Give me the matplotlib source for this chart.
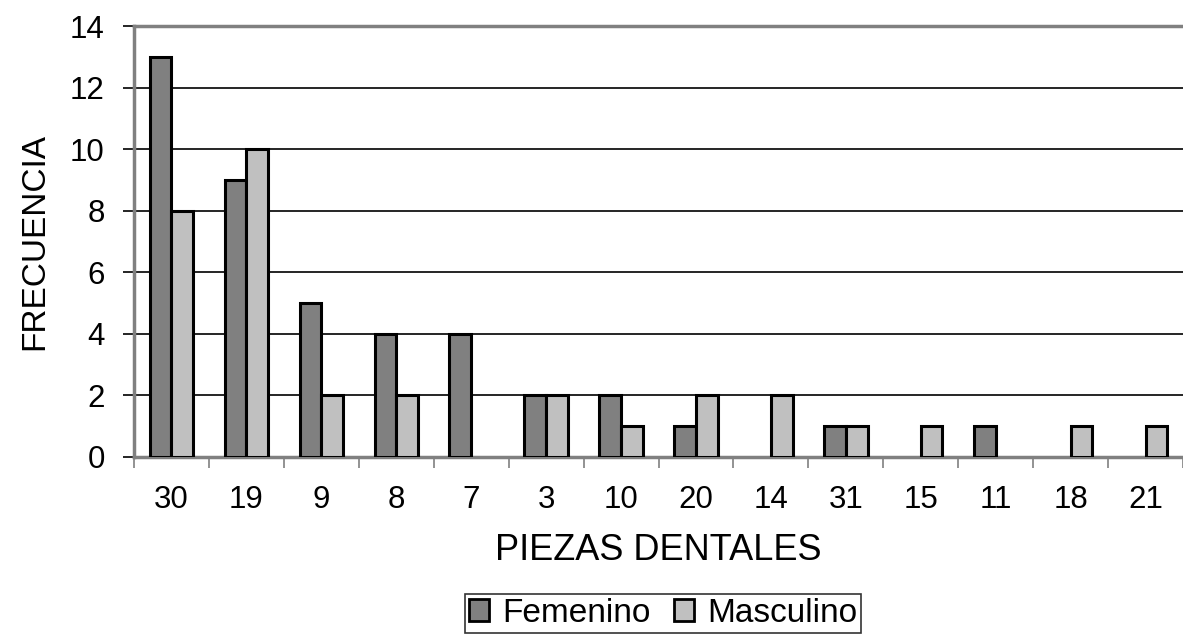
import numpy as np
import matplotlib
matplotlib.use("Agg")
from matplotlib import pyplot as plt
from matplotlib.ticker import FixedLocator

plt.rcParams['font.family'] = ['Liberation Sans', 'DejaVu Sans']

piezas = ["30", "19", "9", "8", "7", "3", "10", "20", "14", "31", "15", "11", "18", "21"]
femenino = [13, 9, 5, 4, 4, 2, 2, 1, 0, 1, 0, 1, 0, 0]
masculino = [8, 10, 2, 2, 0, 2, 1, 2, 2, 1, 1, 0, 1, 1]

fig = plt.figure(figsize=(11.83, 6.36), dpi=100)
ax = fig.add_axes([134 / 1183, 1 - 457 / 636, 1 - 134 / 1183, (457 - 26) / 636])

x = np.arange(len(piezas))
w = 0.29
# zero counts are not drawn at all
fem = np.array(femenino, dtype=float)
mas = np.array(masculino, dtype=float)
fem[fem == 0] = np.nan
mas[mas == 0] = np.nan
ax.bar(x - w / 2, fem, w, color="#808080", edgecolor="black", linewidth=2.2,
       label="Femenino", zorder=3)
ax.bar(x + w / 2, mas, w, color="#c0c0c0", edgecolor="black", linewidth=2.2,
       label="Masculino", zorder=3)

ax.set_xlim(-0.5, len(piezas) - 0.5)
ax.set_ylim(0, 14)
ax.set_yticks(range(0, 15, 2))
ax.yaxis.grid(True, color="black", linewidth=1.2, zorder=0)
ax.set_axisbelow(True)

ax.set_xticks(x)
ax.set_xticklabels(piezas)
ax.xaxis.set_minor_locator(FixedLocator(np.arange(-0.5, len(piezas), 1.0)))
ax.tick_params(axis="x", which="major", length=0, pad=20, labelsize=22.5)
ax.tick_params(axis="x", which="minor", length=8, width=1.2, color="#808080")
ax.tick_params(axis="y", length=8, width=1.2, color="black", labelsize=22.5, pad=13)

for side in ["left", "bottom", "top"]:
    ax.spines[side].set_color("#808080")
    ax.spines[side].set_linewidth(2.5)
ax.spines["right"].set_visible(False)

ax.set_xlabel("PIEZAS DENTALES", fontsize=26, labelpad=13)
ax.set_ylabel("FRECUENCIA", fontsize=24, labelpad=14)

leg = fig.legend(loc="lower center", bbox_to_anchor=(0.5605, 0.0), ncol=2, fontsize=24,
                 frameon=True, fancybox=False, edgecolor="black",
                 handlelength=0.6, handleheight=0.6, handletextpad=0.4,
                 columnspacing=0.7, borderpad=0.12, borderaxespad=0.1)
leg.get_frame().set_linewidth(1.2)
for h in leg.legend_handles:
    h.set_linewidth(2)

fig.savefig("out.png", dpi=100, facecolor="white")
